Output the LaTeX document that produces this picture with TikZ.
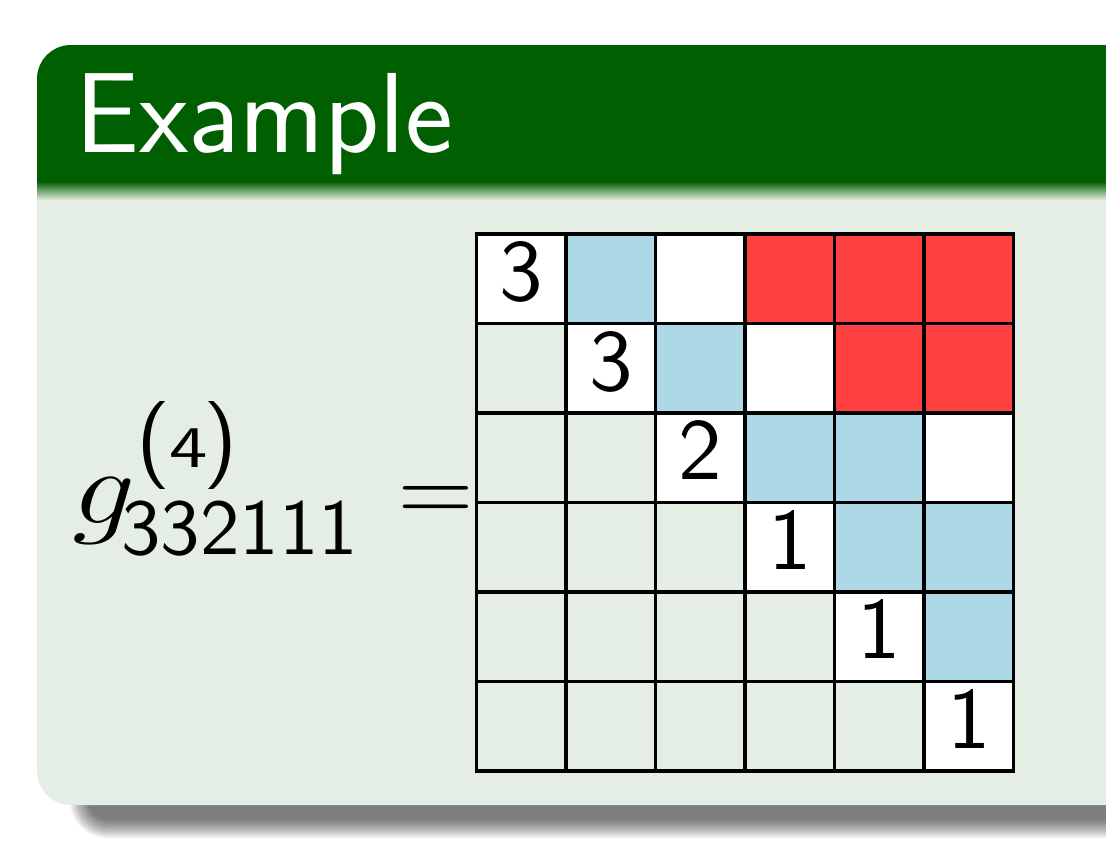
\RequirePackage{fix-cm}
\documentclass[tikz,border=0pt]{standalone}
\usepackage{graphicx}
\usepackage{fontspec}
\newfontfamily\lmsten{lmsans10-regular.otf}
\definecolor{titlegreen}{RGB}{0,95,0}
\definecolor{bodybg}{RGB}{228,238,228}
\definecolor{cellblue}{RGB}{173,216,230}
\definecolor{cellred}{RGB}{255,64,64}
\tikzset{
  digit/.style={anchor=base,inner sep=0pt,font=\lmsten\fontsize{87}{87}\selectfont},
  gridline/.style={line width=3.6pt,black},
}
\begin{document}
\begin{tikzpicture}[x=1pt,y=-1pt]
\useasboundingbox (0,0) rectangle (1106,860);
\fill[white] (0,0) rectangle (1106,860);
\begin{scope}
\clip (0,0) rectangle (1106,860);
% shadow
\foreach \k in {0,...,9}{
  \pgfmathsetmacro\rc{20+2*\k}
  \fill[black,opacity=0.065,rounded corners=\rc pt] ({88-2*\k},760) rectangle (1200,{820+2*\k});
}
% block
\fill[bodybg,rounded corners=34pt] (37,45) rectangle (1200,805);
\begin{scope}
\clip[rounded corners=34pt] (37,45) rectangle (1200,805);
\fill[titlegreen] (0,0) rectangle (1200,182);
\shade[top color=titlegreen,bottom color=bodybg] (0,181.5) rectangle (1200,200);
\end{scope}
\end{scope}
% title
\node[font=\sffamily\fontsize{114}{114}\selectfont,text=white,anchor=base west,inner sep=0pt] (title) at (75,152) {Example};
% formula
\node[anchor=base west,inner sep=0pt,font=\fontsize{106}{106}\selectfont] (g) at (72,523) {\scalebox{1.18}[1]{$g$}};
\node[anchor=base west,inner sep=0pt,font=\lmsten] (sup) at (136,467) {{\fontsize{88}{88}\selectfont(}\kern-1pt{\fontsize{59}{59}\selectfont\scalebox{1.3}[1]{4}}\kern-4pt{\fontsize{88}{88}\selectfont)}};
\node[anchor=base west,inner sep=0pt,font=\lmsten\fontsize{79}{79}\selectfont] (sub) at (121,554) {332111};
\node[anchor=base,inner sep=0pt,font=\fontsize{104}{104}\selectfont] (eq) at (435.5,523) {$=$};
% grid
\begin{scope}[shift={(476.5,234)}]
\def\s{89.5}
\foreach \i/\j in {1/1,1/3,2/2,2/4,3/3,3/6,4/4,5/5,6/6}
  \fill[white] ({(\j-1)*\s},{(\i-1)*\s}) rectangle ({\j*\s},{\i*\s});
\foreach \i/\j in {1/2,2/3,3/4,3/5,4/5,4/6,5/6}
  \fill[cellblue] ({(\j-1)*\s},{(\i-1)*\s}) rectangle ({\j*\s},{\i*\s});
\foreach \i/\j in {1/4,1/5,1/6,2/5,2/6}
  \fill[cellred] ({(\j-1)*\s},{(\i-1)*\s}) rectangle ({\j*\s},{\i*\s});
\foreach \k in {1,...,5}{
  \draw[gridline] ({\k*\s},0) -- ({\k*\s},{6*\s});
  \draw[gridline] (0,{\k*\s}) -- ({6*\s},{\k*\s});
}
\draw[gridline] (0,0) rectangle ({6*\s},{6*\s});
\node[digit] (d11) at ({0.5*\s},{66.5}) {3};
\node[digit] (d22) at ({1.5*\s},{\s+66.5}) {3};
\node[digit] (d33) at ({2.5*\s},{2*\s+66.5}) {2};
\node[digit] (d44) at ({3.5*\s},{3*\s+66.5}) {1};
\node[digit] (d55) at ({4.5*\s},{4*\s+66.5}) {1};
\node[digit] (d66) at ({5.5*\s},{5*\s+66.5}) {1};
\end{scope}
\end{tikzpicture}
\end{document}
